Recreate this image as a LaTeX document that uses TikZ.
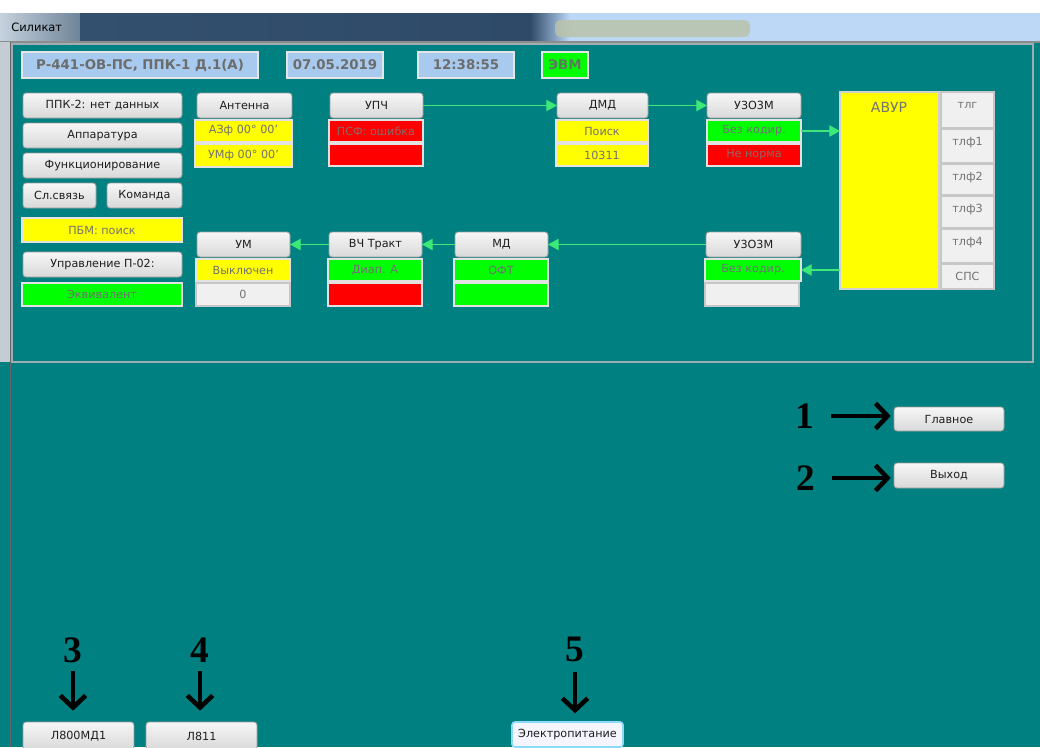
\documentclass[tikz,border=0pt]{standalone}
\usepackage{fontspec}
\setmainfont{DejaVu Sans}
\newfontfamily\numfont{Liberation Serif}
\usetikzlibrary{arrows.meta}
\definecolor{bgteal}{HTML}{008080}
\definecolor{btnborder}{HTML}{9C9C9C}
\definecolor{btntop}{HTML}{F6F6F6}
\definecolor{btnbot}{HTML}{D9D9D9}
\definecolor{btntext}{HTML}{1E1E1E}
\definecolor{cellborder}{HTML}{E2E2E2}
\definecolor{celltext}{HTML}{717171}
\definecolor{redtext}{HTML}{8A6A6A}
\definecolor{ylw}{HTML}{FFFF00}
\definecolor{grn}{HTML}{00FF00}
\definecolor{rd}{HTML}{FF0000}
\definecolor{wcell}{HTML}{F0F0F0}
\definecolor{hdrfill}{HTML}{A8CAEE}
\definecolor{hdrtext}{HTML}{6C6C6C}
\definecolor{evmtext}{HTML}{5E7A5E}
\definecolor{arrgreen}{HTML}{3CE878}
\definecolor{framegrey}{HTML}{9EAEB4}
\definecolor{tbA}{HTML}{C6D2DE}
\definecolor{tbB}{HTML}{6E8498}
\definecolor{tbC}{HTML}{33506E}
\definecolor{tbD}{HTML}{2E4A68}
\definecolor{tbE}{HTML}{BCD8F6}
\definecolor{tbF}{HTML}{B9C2AA}
\definecolor{stripgrey}{HTML}{C4CCD4}
\tikzset{
  wbase/.style={rectangle, inner sep=0pt, outer sep=0pt, font=\fontsize{8.4}{10}\selectfont},
  btn/.style={wbase, rounded corners=2.2pt, draw=btnborder, top color=btntop, bottom color=btnbot, text=btntext, line width=0.7pt},
  ebtn/.style={wbase, rounded corners=2.2pt, draw=cyan!45!white, line width=1.2pt, fill=blue!4!white, text=btntext},
  cell/.style={wbase, draw=cellborder, line width=1.1pt, text=celltext},
  ycell/.style={cell, fill=ylw},
  gcell/.style={cell, fill=grn},
  rcell/.style={cell, fill=rd, text=redtext},
  wcellst/.style={cell, fill=wcell, draw=black!22},
  hdr/.style={wbase, draw=black!10, line width=1.4pt, fill=hdrfill, text=hdrtext, font=\fontsize{10}{12}\selectfont\bfseries},
  evm/.style={hdr, fill=grn, text=evmtext},
  avurst/.style={wbase, fill=ylw, draw=black!18, line width=1pt},
  tile/.style={wbase, fill=wcell, draw=black!22, line width=0.8pt},
  tiletext/.style={anchor=base, yshift=-12.4pt, inner sep=0pt, text=black!55, font=\fontsize{8.4}{10}\selectfont},
  garrow/.style={draw=arrgreen, line width=0.8pt, -{Triangle[length=8pt,width=8.5pt]}, fill=arrgreen!80!white},
  barrow/.style={draw=black, line width=3.4pt, -{Straight Barb[length=9pt,width=19pt]}},
  numst/.style={inner sep=0pt, font=\numfont\fontsize{28}{28}\selectfont\bfseries, text=black}
}
\newcommand\wb[7]{\node[#1, minimum width={(#5-#3)*0.75pt}, minimum height={(#6-#4)*0.75pt}] (#2) at ({(#3+#5)/2},{(#4+#6)/2}) {#7};}
\begin{document}
\begin{tikzpicture}[x=0.75pt,y=-0.75pt]
\clip (0,0) rectangle (1040,747);
% background
\fill[white] (0,0) rectangle (1040,13);
\fill[bgteal] (0,42) rectangle (1040,747);
% title bar
\shade[left color=tbA, right color=tbB] (0,13) rectangle (80,42);
\shade[left color=tbC, right color=tbD] (80,13) rectangle (530,42);
\shade[left color=tbD, right color=tbE] (530,13) rectangle (570,42);
\fill[tbE] (570,13) rectangle (1040,42);
\fill[tbF, rounded corners=4pt, opacity=0.85] (555,20) rectangle (750,37);
\draw[black!45, line width=0.8pt] (0,42) -- (1040,42);
\node[anchor=west, inner sep=0pt, text=black, font=\fontsize{8.6}{10}\selectfont] (wtitle) at (11,27) {Силикат};
% frames
\fill[stripgrey] (0,42) rectangle (10,362);
\draw[black!60, line width=0.8pt] (10.5,42) -- (10.5,747);
\draw[framegrey, line width=1pt] (12,44) rectangle (1033,362);
% header
\wb{hdr}{ttl}{22}{52}{258}{78}{Р-441-ОВ-ПС, ППК-1 Д.1(А)}
\wb{hdr}{date}{287}{52}{383}{78}{07.05.2019}
\wb{hdr}{time}{418}{52}{514}{78}{12:38:55}
\wb{evm}{evm}{542}{52}{588}{78}{ЭВМ}
% left column
\wb{btn}{ppk}{23}{93}{182}{118}{ППК-2: нет данных}
\wb{btn}{app}{23}{123}{182}{148}{Аппаратура}
\wb{btn}{func}{23}{153}{182}{178}{Функционирование}
\wb{btn}{sl}{23}{183}{96}{208}{Сл.связь}
\wb{btn}{kom}{107}{183}{182}{208}{Команда}
\wb{ycell}{pbm}{22}{218}{182}{242}{ПБМ: поиск}
\wb{btn}{upr}{23}{252}{182}{277}{Управление П-02:}
\wb{gcell}{ekv}{22}{283}{182}{306}{Эквивалент}
% antenna
\wb{btn}{ant}{197}{93}{292}{118}{Антенна}
\wb{ycell}{az}{195}{120}{292}{142}{АЗф 00° 00'}
\wb{ycell}{umf}{195}{144}{292}{167}{УМф 00° 00'}
% upper chain
\wb{btn}{upch}{330}{93}{423}{118}{УПЧ}
\wb{rcell}{psf}{329}{120}{423}{142}{ПСФ: ошибка}
\wb{rcell}{upchb}{329}{144}{423}{166}{}
\wb{btn}{dmd}{557}{93}{648}{118}{ДМД}
\wb{ycell}{poisk}{556}{120}{648}{142}{Поиск}
\wb{ycell}{nmb}{556}{144}{648}{166}{10311}
\wb{btn}{uzt}{707}{93}{801}{118}{У3О3М}
\wb{gcell}{uzta}{707}{120}{801}{142}{Без кодир.}
\wb{rcell}{uztb}{707}{144}{801}{166}{Не норма}
% AVUR
\wb{avurst}{avur}{840}{92}{939}{289}{}
\node[inner sep=0pt, text=black!55, font=\fontsize{10.5}{12}\selectfont] (avurt) at (889,107) {АВУР};
\node[tile, minimum width={53*0.75pt}, minimum height={36*0.75pt}, label={[tiletext]north:тлг}] (tlg) at (967.5,110) {};
\node[tile, minimum width={53*0.75pt}, minimum height={34*0.75pt}, label={[tiletext]north:тлф1}] (tlf1) at (967.5,146) {};
\node[tile, minimum width={53*0.75pt}, minimum height={31*0.75pt}, label={[tiletext]north:тлф2}] (tlf2) at (967.5,179.5) {};
\node[tile, minimum width={53*0.75pt}, minimum height={32*0.75pt}, label={[tiletext]north:тлф3}] (tlf3) at (967.5,212) {};
\node[tile, minimum width={53*0.75pt}, minimum height={34*0.75pt}, label={[tiletext]north:тлф4}] (tlf4) at (967.5,246) {};
\node[tile, minimum width={53*0.75pt}, minimum height={25*0.75pt}, label={[tiletext]north:СПС}] (sps) at (967.5,276.5) {};
% lower chain
\wb{btn}{umb}{197}{232}{290}{257}{УМ}
\wb{ycell}{vykl}{196}{259}{290}{281}{Выключен}
\wb{wcellst}{zero}{196}{283}{290}{306}{0}
\wb{btn}{vch}{329}{232}{422}{257}{ВЧ Тракт}
\wb{gcell}{diap}{328}{259}{422}{281}{Диап. А}
\wb{rcell}{vchb}{328}{283}{422}{306}{}
\wb{btn}{md}{455}{232}{548}{257}{МД}
\wb{gcell}{oft}{454}{259}{548}{281}{ОФТ}
\wb{gcell}{mdb}{454}{283}{548}{306}{}
\wb{btn}{uzb}{706}{232}{801}{257}{У3О3М}
\wb{gcell}{uzba}{705}{259}{801}{281}{Без кодир.}
\wb{wcellst}{uzbb}{705}{283}{799}{306}{}
% green connectors
\draw[garrow] (upch.east) -- (dmd.west);
\draw[garrow] (dmd.east) -- (uzt.west);
\draw[garrow] (uzta.east) -- (uzta.east -| avur.west);
\draw[garrow] (avur.west |- uzba.east) -- (uzba.east);
\draw[garrow] (uzb.west) -- (md.east);
\draw[garrow] (md.west) -- (vch.east);
\draw[garrow] (vch.west) -- (umb.east);
% right buttons
\wb{btn}{glav}{894}{407}{1004}{431}{Главное}
\wb{btn}{vyh}{894}{463}{1004}{488}{Выход}
% bottom buttons
\wb{btn}{l800}{23}{722}{134}{750}{Л800МД1}
\wb{btn}{l811}{146}{722}{257}{750}{Л811}
\wb{ebtn}{elp}{512}{722}{623}{747}{Электропитание}
% numbers
\node[numst] (n1) at (805,416) {1};
\node[numst] (n2) at (806,478) {2};
\node[numst] (n3) at (73,650) {3};
\node[numst] (n4) at (200,650) {4};
\node[numst] (n5) at (575,649) {5};
% black arrows
\draw[barrow, shorten <=12pt, shorten >=2.5pt] (n1.east) -- (n1.east -| glav.west);
\draw[barrow, shorten <=12pt, shorten >=2.5pt] (n2.east) -- (n2.east -| vyh.west);
\draw[barrow, shorten <=6pt, shorten >=8.5pt] (n3.south) -- (n3.south |- l800.north);
\draw[barrow, shorten <=6pt, shorten >=8.5pt] (n4.south) -- (n4.south |- l811.north);
\draw[barrow, shorten <=8pt, shorten >=6.5pt] (n5.south) -- (n5.south |- elp.north);
\end{tikzpicture}
\end{document}
